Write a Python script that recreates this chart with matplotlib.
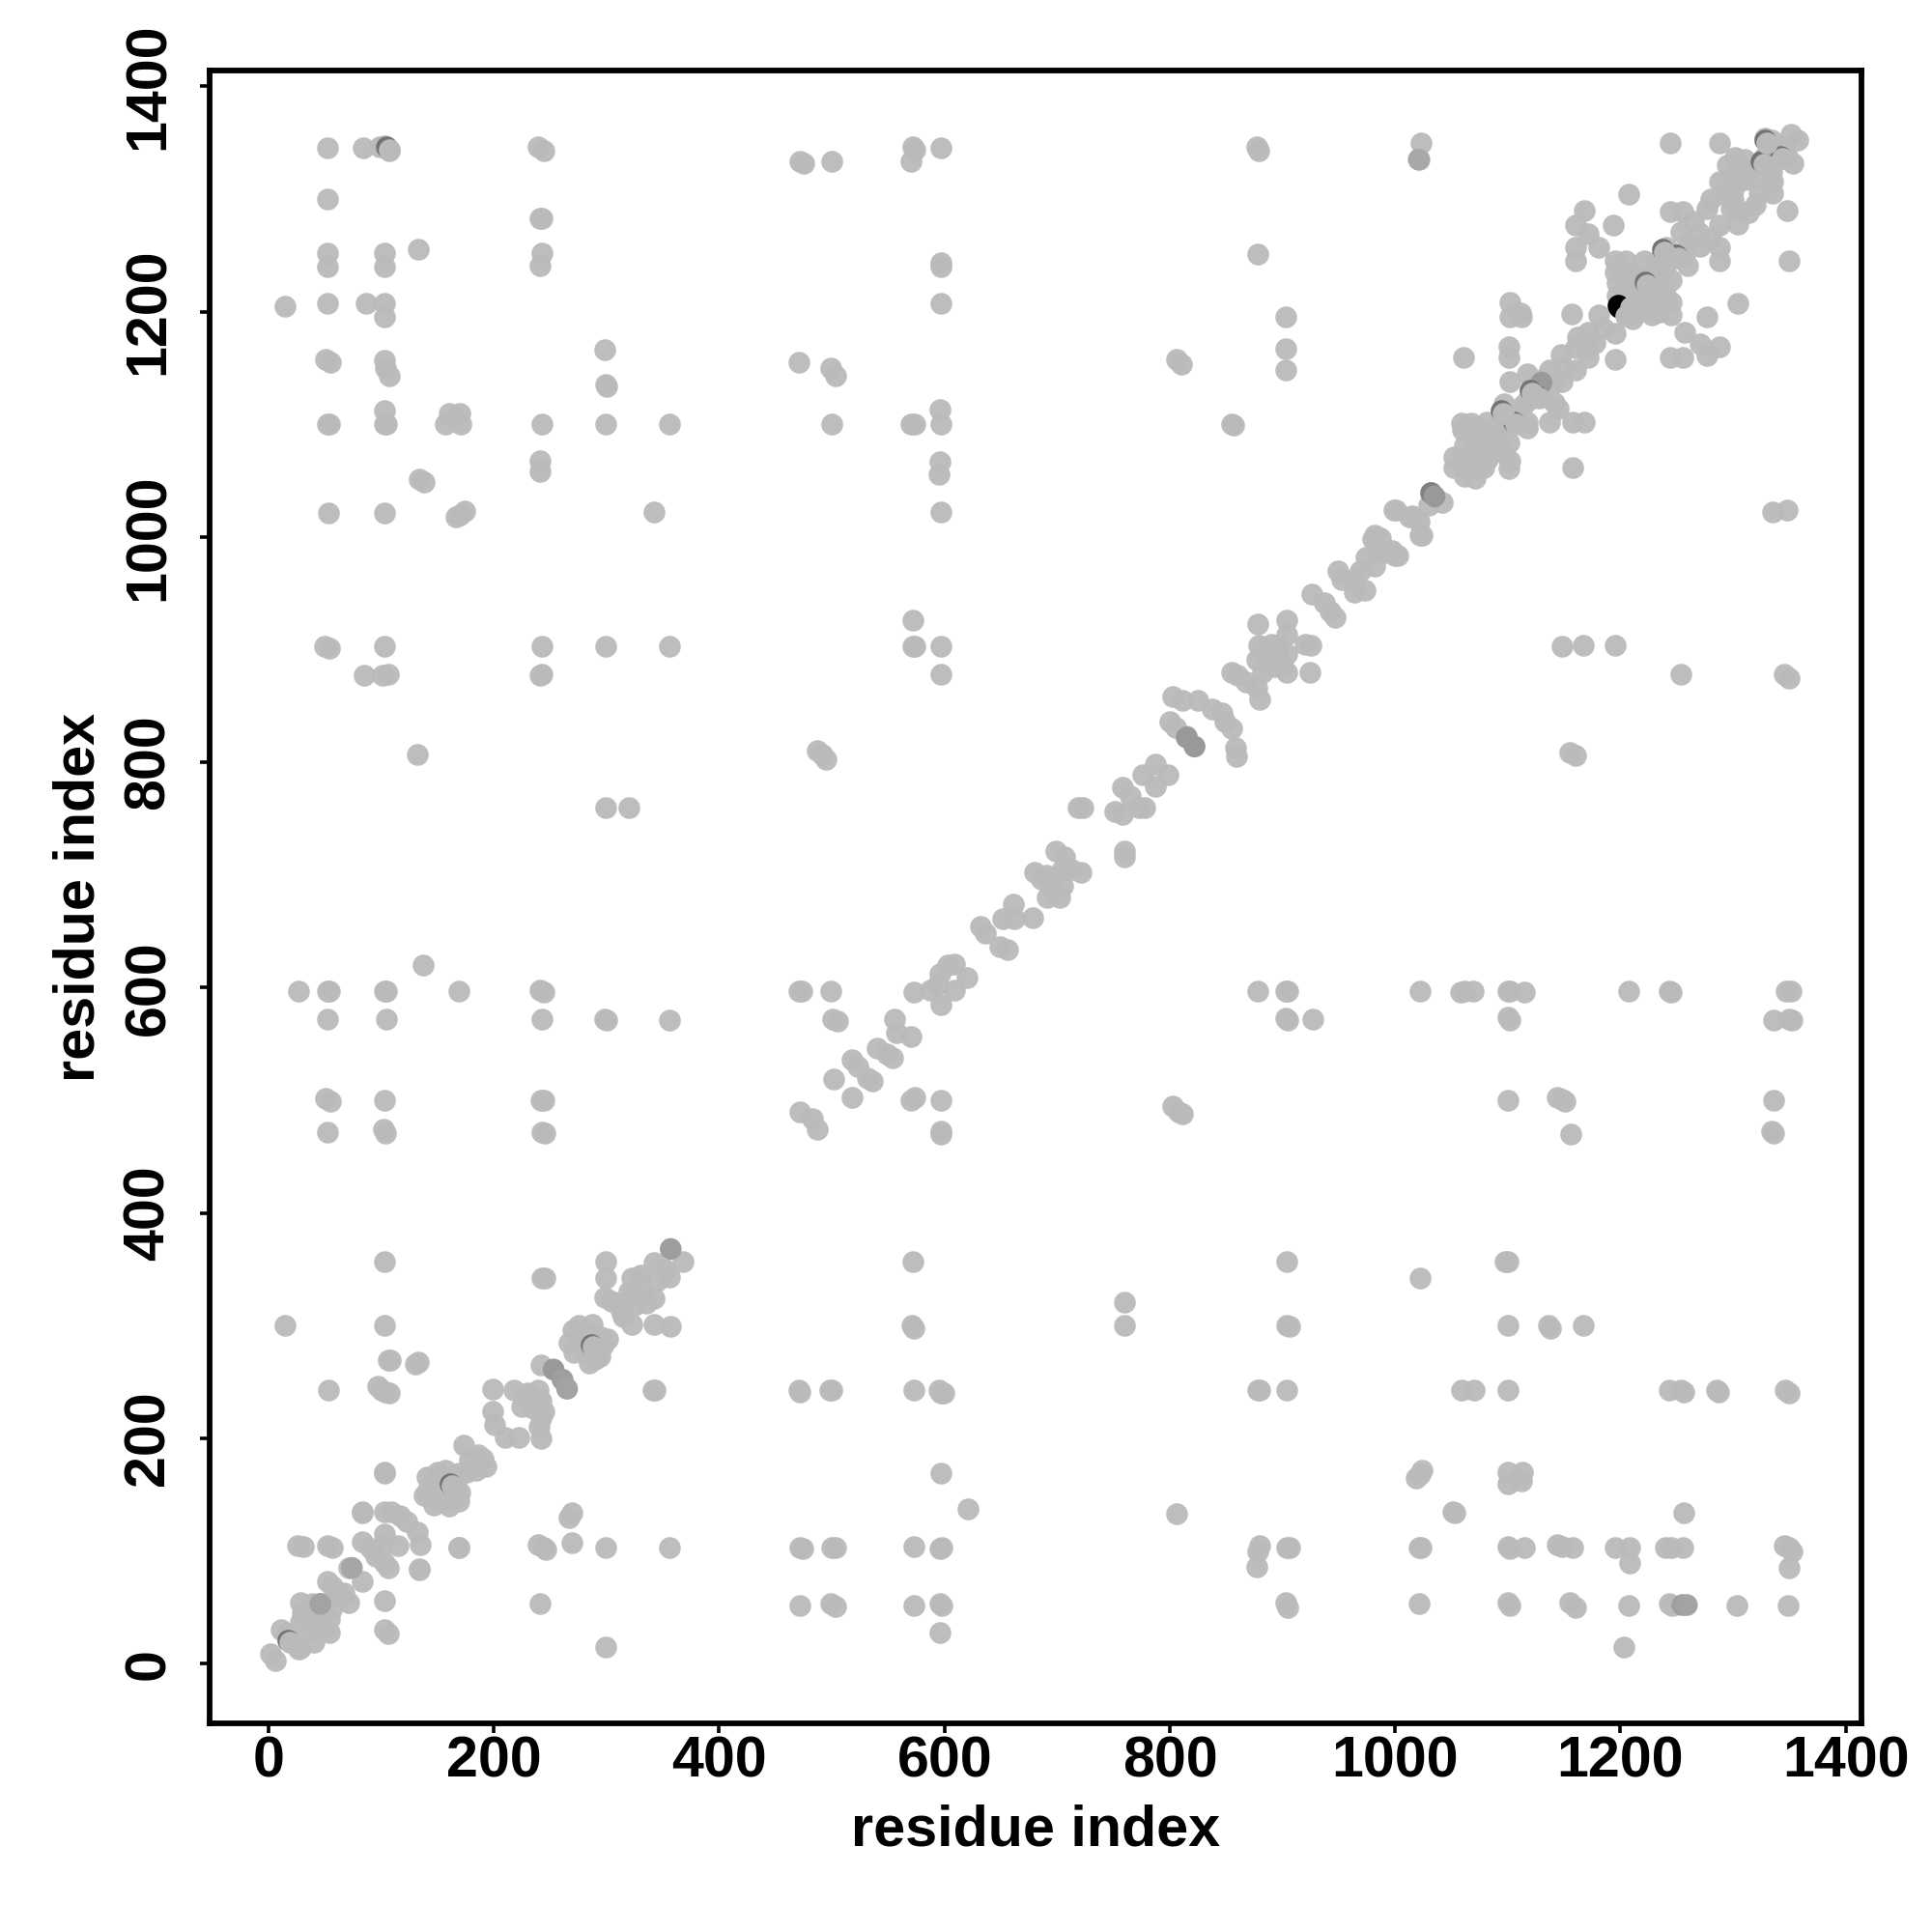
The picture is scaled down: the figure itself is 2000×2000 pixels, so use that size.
import numpy as np
import matplotlib
matplotlib.use("Agg")
import matplotlib.pyplot as plt

plt.rcParams['font.family'] = ['Liberation Sans', 'DejaVu Sans']
plt.rcParams['ytick.alignment'] = 'center'

# contacts close to the diagonal, (residue i, residue j)
diag_low = [(2,9),(6,3),(11,30),(16,27),(22,20),(28,14),(27,13),(28,54),(28,37),(39,53),(39,37),(40,19),(54,28),
    (46,53),(54,40),(48,46),(52,73),(57,69),(63,60),(71,54),(67,63),(71,85),(83,73),(103,56),(106,27),(103,30),
    (26,105),(31,104),(52,105),(57,103),(83,108),(91,102),(101,105),(106,85),(103,89),(95,95),(103,115),(115,105),
    (103,135),(117,131),(109,135),(135,106),(132,117),(123,126),(83,135),(134,83),(169,103),
    (141,166),(138,149),(147,141),(160,140),(169,144),(141,153),(153,160),(166,160),(169,169),(157,172),(173,194),
    (178,181),(193,175),(184,172),(103,170),(199,244),(199,224),(201,212),(210,201),(222,201),(242,200),
    (218,243),(227,236),(233,227),(242,218),(244,224),(242,233),(239,243),(242,265),(270,296),(267,285),(271,276),
    (285,267),(294,273),(301,288),(287,301),(279,291),(285,281),(297,282),(299,342),(299,357),(298,325),(304,322),
    (313,313),(322,301),(342,301),(357,299),(322,342),(331,334),(342,324),(325,328),(342,356),(356,343),(368,357),
    (30,45),(44,45),(38,30),(50,32),(56,48),(145,160),(150,170),(160,165),(170,152),(152,145),(162,148),(176,170),
    (186,185),(190,182),(225,228),(235,235),(240,210),(230,240),(275,300),(285,292),(295,290),(290,270),(280,278),
    (320,330),(335,320),(310,320),(330,345),(345,340),(352,350),(315,308),(325,318)]

diag_mid = [(472,490),(483,484),(487,474),(502,519),(518,503),(518,536),(523,530),(532,520),(536,517),(540,546),
    (549,541),(554,538),(556,572),(570,557),(557,560),(573,596),(587,598),(594,603),(609,598),(596,612),(603,620),
    (609,621),(620,609),(597,585),(632,654),(636,648),(649,636),(656,634),(652,661),(661,674),(662,661),(678,662),
    (680,702),(686,696),(691,680),(702,680),(696,697),(704,704),(699,721),(707,716),(713,705),(721,702),(719,760),
    (723,760),(751,756),(758,754),(758,778),(760,721),(760,716),(765,770),(773,760),(778,760),(776,789),(787,779),
    (787,798),(798,789),(803,858),(811,855),(815,823),(800,836),(805,831),(825,855),(838,847),(846,844),(849,836),
    (855,830),(858,813),(859,805),(855,880),(860,877),(868,871),(877,866),(880,856),(879,904),(878,923),(877,891),
    (882,880),(893,885),(904,926),(904,896),(904,880),(895,904),(920,905),(925,904),(924,880),(904,913),(926,949),
    (937,942),(942,934),(947,929),(949,970),(953,962),(964,962),(964,951),(973,953),(969,970),(980,998),(984,989),
    (991,986),(1000,984),(999,1024),(1013,1018),(1021,1014),(1022,1002),(1042,1031),(1030,1028),(1001,1024),
    (1015,1019),(1024,1002),(982,1002),(987,999),(1002,984),(997,988),(974,982),(982,974),
    (695,690),(690,700),(705,690),(885,895),(895,895),(890,905),(900,885)]

diag_high = [(1059,1101),(1068,1101),(1081,1102),(1092,1099),(1062,1081),(1052,1071),(1052,1062),(1062,1054),
    (1071,1052),(1070,1062),(1071,1082),(1082,1069),(1082,1084),(1101,1084),(1102,1068),(1101,1061),(1079,1062),
    (1097,1118),(1105,1108),(1117,1097),(1117,1102),(1117,1121),(1137,1102),(1158,1102),(1168,1102),(1158,1062),
    (1061,1159),(1101,1169),(1101,1159),(1102,1138),(1117,1145),(1122,1134),(1121,1128),(1130,1124),(1114,1117),
    (1141,1119),(1145,1114),(1137,1148),(1148,1138),(1147,1162),(1160,1148),(1160,1168),(1171,1159),(1195,1158),
    (1195,1181),(1181,1197),(1157,1198),(1171,1182),(1177,1172),(1162,1177),(1102,1208),(1111,1199),(1102,1195),
    (1112,1195),(1160,1245),(1160,1257),(1160,1277),(1168,1290),(1171,1269),(1181,1257),(1194,1277),(1207,1304),
    (1195,1245),(1205,1245),(1221,1245),(1231,1244),(1197,1225),(1197,1214),(1211,1194),(1228,1197),(1245,1197),
    (1245,1208),(1245,1228),(1217,1231),(1230,1217),(1211,1234),(1214,1208),(1220,1222),(1230,1231),(1205,1217),
    (1244,1159),(1255,1159),(1257,1182),(1271,1171),(1277,1161),(1288,1169),(1277,1195),(1304,1207),(1244,1289),
    (1255,1289),(1241,1257),(1248,1251),(1257,1251),(1260,1241),(1254,1271),(1271,1258),(1288,1245),(1288,1257),
    (1277,1291),(1288,1315),(1291,1304),(1298,1291),(1288,1277),(1304,1278),(1314,1288),(1302,1337),(1310,1317),
    (1323,1305),(1335,1305),(1334,1324),(1327,1337),(1334,1352),(1328,1354),(1340,1344),(1353,1332),(1351,1357),
    (1357,1352),(1348,1338),(1314,1325),(1300,1308),(1348,1290),(1350,1245),(1288,1350),(1244,1350),(1023,1350),
    (1021,1335),(1335,1022),(1348,1024),
    (1060,1095),(1075,1095),(1090,1085),(1095,1075),(1060,1070),(1075,1070),(1090,1095),(1080,1075),(1065,1060),
    (1150,1150),(1170,1170),(1185,1185),(1140,1135),(1130,1140),(1210,1225),(1225,1210),(1240,1215),
    (1235,1235),(1215,1200),(1240,1240),(1195,1235),(1235,1200),(1300,1300),(1320,1320),
    (1320,1295),(1300,1320),(1295,1330),(1310,1335),(1335,1315),(1280,1300),
    (1270,1270),(1265,1280),(1280,1265),(1260,1260),(1305,1290),(1345,1345)]

# contacts far from the diagonal
off_upper = [(52,1345),(84,1345),(99,1346),(103,1347),(107,1343),(239,1346),(244,1343),(472,1333),(475,1332),
    (500,1333),(570,1333),(572,1346),(574,1344),(597,1345),(877,1346),(879,1343),(52,1300),(241,1283),(243,1283),
    (52,1252),(52,1240),(103,1252),(103,1240),(133,1255),(243,1252),(241,1241),(597,1240),(597,1243),(878,1251),
    (15,1205),(52,1207),(87,1207),(103,1207),(103,1195),(597,1207),(903,1195),(51,1158),(55,1155),(103,1157),
    (104,1150),(107,1143),(299,1135),(300,1134),(298,1166),(471,1155),(499,1150),(503,1143),(806,1158),(810,1153),
    (903,1167),(903,1148),(52,1100),(54,1100),(103,1112),(103,1100),(105,1100),(157,1100),(170,1110),(171,1100),
    (160,1110),(243,1100),(241,1068),(241,1058),(299,1100),(356,1100),(500,1100),(570,1100),(574,1100),(597,1100),
    (596,1113),(596,1067),(595,1056),(855,1100),(857,1099),(134,1051),(138,1049),(53,1021),(103,1021),(166,1018),
    (170,1020),(174,1023),(342,1022),(597,1022),(50,903),(54,901),(103,903),(243,903),(299,903),(356,903),(572,903),
    (574,903),(597,903),(572,926),(1148,903),(1167,904),(1195,904),(85,877),(101,877),(106,878),(243,878),(241,877),
    (597,878),(1254,878),(1345,878),(1350,875),(132,807),(487,810),(491,807),(495,803),(1155,809),(1160,806),
    (299,760),(320,760),(137,620)]

off_lower = [(27,597),(52,597),(54,597),(103,597),(105,597),(169,597),(241,598),(244,596),(471,597),(473,597),
    (499,597),(878,597),(903,597),(905,597),(1022,597),(1058,596),(1062,597),(1069,597),(1100,597),(1102,597),
    (1115,596),(1207,597),(1243,597),(1245,596),(1347,597),(1351,597),(52,572),(105,572),(243,572),(298,572),
    (300,571),(356,571),(501,572),(505,570),(903,573),(905,571),(927,572),(1100,574),(1102,571),(1336,571),(1350,572),
    (1352,571),(51,502),(55,499),(103,500),(242,500),(244,500),(570,500),(574,503),(597,500),(803,495),(808,490),
    (811,488),(1100,500),(1144,503),(1148,501),(1151,499),(1336,500),(52,472),(102,474),(104,471),(243,472),(245,471),
    (597,473),(597,470),(1156,470),(1334,473),(1336,471),(103,357),(572,357),(904,357),(1098,357),(1100,357),(1022,342),
    (243,342),(245,342),(15,300),(103,300),(571,300),(573,298),(760,321),(760,300),(904,300),(906,299),(1100,300),
    (1136,300),(1138,298),(1167,300),(106,269),(108,269),(130,266),(133,268),(53,243),(97,246),(100,243),(104,241),
    (107,240),(471,243),(472,241),(500,243),(498,243),(573,243),(595,243),(597,240),(599,240),(878,243),(880,243),
    (904,243),(1059,243),(1070,243),(1100,243),(1243,243),(1254,243),(1256,241),(1285,243),(1287,241),(1346,243),
    (1350,240),(341,243),(343,243),(267,130),(269,134),(269,107),(103,169),(597,169),(1019,165),(1022,168),(1024,172),
    (1100,160),(1100,170),(1112,162),(1113,170),(621,137),(806,133),(1051,135),(1053,134),(1256,134),(83,134),
    (472,103),(474,102),(500,103),(503,103),(573,104),(596,102),(598,103),(169,103),(239,106),(244,103),(246,101),
    (299,103),(356,103),(878,100),(880,105),(877,86),(904,103),(906,103),(1021,103),(1023,103),(1100,104),(1102,102),
    (1115,103),(1144,106),(1148,104),(1158,103),(1195,103),(1208,103),(1208,89),(1240,103),(1245,103),(1255,103),
    (1345,105),(1350,103),(1352,100),(1350,85),(241,53),(472,52),(499,53),(503,51),(573,52),(596,53),(598,52),
    (903,54),(905,50),(1021,53),(1100,54),(1102,52),(1155,54),(1160,50),(1207,52),(1243,53),(1246,52),(1303,52),
    (1349,52),(596,28),(299,15),(1203,15),(134,84)]

# points visibly darker than the rest
dark_pts = [(1032,1039),(1035,1036),(1130,1137),(253,261),(261,252),(265,244),
    (74,85),(46,53),(815,822),(822,814),(357,368),(1021,1335),(1255,52),(1259,52)]
dark_gray = [0.5,0.6,0.6,0.6,0.62,0.64,0.65,0.64,0.6,0.6,0.62,0.66,0.62,0.64]

# dark marks with a light one over them, so only a crescent shows
black_pts = [(1198,1206),(1199,1204)]
under_pts = [(1120,1130),(1126,1125),(1094,1112),(1105,1102),(1237,1255),(1249,1250),(1222,1226),(1328,1352),
    (1325,1333),(1342,1338),(286,283),(161,160),(17,21),(105,1346)]
cover_pts = [(1122,1128),(1128,1123),(1096,1110),(1107,1100),(1239,1253),(1251,1248),(1224,1224),(1330,1350),
    (1327,1331),(1344,1336),(288,281),(163,158),(19,19),(107,1344),(1209,1204),(1205,1196)]

ticks = [0, 200, 400, 600, 800, 1000, 1200, 1400]

W, H = 2000., 2000.
fig = plt.figure(figsize=(10, 10), dpi=200)
ax = fig.add_axes([217/W, 1-1784/H, (1927-217)/W, (1784-73)/H])

pts = diag_low + diag_mid + diag_high + off_upper + off_lower
px, py = zip(*pts)
dx, dy = zip(*dark_pts)
ux, uy = zip(*under_pts)
bx, by = zip(*black_pts)
cx, cy = zip(*cover_pts)
ax.scatter(px, py, s=66, c='#bababa', linewidths=0, alpha=0.95, zorder=2)
ax.scatter(dx, dy, s=66, c=[str(g) for g in dark_gray], linewidths=0, zorder=3)
ax.scatter(ux, uy, s=66, c='0.45', linewidths=0, zorder=4)
ax.scatter(bx, by, s=66, c='black', linewidths=0, zorder=4)
ax.scatter(cx, cy, s=66, c='#bababa', linewidths=0, zorder=5)

ax.set_xlim(-52.3, 1414)
ax.set_ylim(-53, 1414)
ax.set_xticks(ticks)
ax.set_yticks(ticks)
ax.tick_params(length=3.6, width=1.3, labelsize=21.3)
ax.tick_params(axis='x', pad=1)
ax.tick_params(axis='y', pad=9, labelrotation=90)
for t in ax.get_xticklabels() + ax.get_yticklabels():
    t.set_fontweight('bold')
for s in ax.spines.values():
    s.set_linewidth(2.1)

ax.set_xlabel("residue index", fontsize=21.4, fontweight='bold')
ax.set_ylabel("residue index", fontsize=21.4, fontweight='bold')
ax.xaxis.set_label_coords(0.5, (1784-1895)/(1784-73), transform=ax.transAxes)
ax.yaxis.set_label_coords((82-217)/(1927-217), 0.5, transform=ax.transAxes)
ax.xaxis.label.set_va('center')
ax.yaxis.label.set_va('center')

fig.savefig("out.png", dpi=200)
